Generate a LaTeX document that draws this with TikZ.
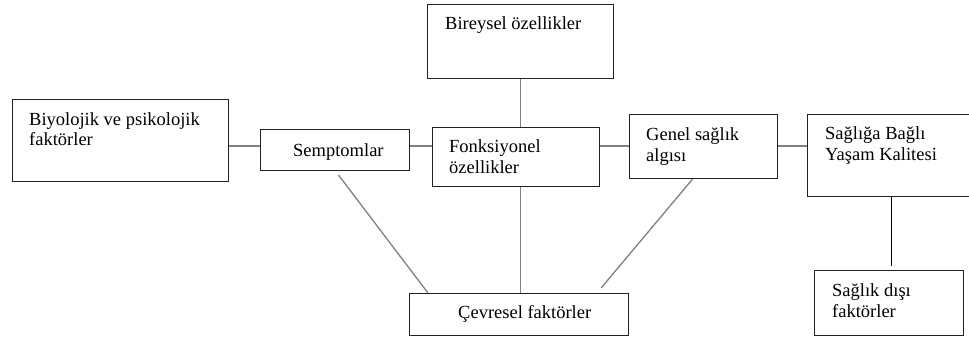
\documentclass[tikz,border=0pt]{standalone}
\usepackage{fontspec}
\setmainfont{Liberation Serif}
\usetikzlibrary{calc}
\definecolor{boxc}{HTML}{222222}
\definecolor{connc}{HTML}{808080}
\begin{document}
\begin{tikzpicture}[x=1pt,y=-1pt,
  box/.style={draw=boxc, line width=1.1pt, inner sep=0pt, anchor=north west},
  txt/.style={font=\fontsize{18.5}{20.5}\selectfont, align=left, inner sep=0pt, anchor=base west},
  conn/.style={draw=connc, line width=1.3pt},
  conndark/.style={draw=black, line width=1.4pt}]
\useasboundingbox[fill=white] (0,0) rectangle (969,340);

% boxes
\node[box, minimum width=216, minimum height=82] (bio)   at (12,99)  {};
\node[box, minimum width=149, minimum height=41] (semp)  at (260,129) {};
\node[box, minimum width=186, minimum height=74] (birey) at (427,4)   {};
\node[box, minimum width=167, minimum height=59] (fonk)  at (432,127) {};
\node[box, minimum width=148, minimum height=64] (genel) at (629,114) {};
\node[box, minimum width=168, minimum height=82] (sqol)  at (807,114) {};
\node[box, minimum width=149, minimum height=65] (dis)   at (814,270) {};
\node[box, minimum width=219, minimum height=42] (cevre) at (409,293) {};

% texts (base anchor of a two-line node is on its last line)
\node[txt] (bioT)   at ($(bio.north west)+(17,46.7)$)   {Biyolojik ve psikolojik\\faktörler};
\node[txt] (sempT)  at ($(semp.north west)+(33,27)$)    {Semptomlar};
\node[txt] (bireyT) at ($(birey.north west)+(18,25.3)$) {Bireysel özellikler};
\node[txt] (fonkT)  at ($(fonk.north west)+(17,46.3)$)  {Fonksiyonel\\özellikler};
\node[txt] (genelT) at ($(genel.north west)+(17,47)$)   {Genel sağlık\\algısı};
\node[txt] (sqolT)  at ($(sqol.north west)+(18,46)$)    {Sağlığa Bağlı\\Yaşam Kalitesi};
\node[txt] (disT)   at ($(dis.north west)+(18,47)$)     {Sağlık dışı\\faktörler};
\node[txt] (cevreT) at ($(cevre.north west)+(49,25)$)   {Çevresel faktörler};

% connectors
\coordinate (hl) at (0,146);
\draw[conn] (bio.east |- hl) -- (semp.west |- hl);
\draw[conn] (semp.east |- hl) -- (fonk.west |- hl);
\draw[conn] (fonk.east |- hl) -- (genel.west |- hl);
\draw[conn] (genel.east |- hl) -- (sqol.west |- hl);
\draw[conn] (birey.south) -- (birey.south |- fonk.north);
\draw[conn] (birey.south |- fonk.south) -- (birey.south |- cevre.north);
\draw[conn] ($(semp.south)+(3.5,4)$) -- ($(cevre.north west)+(19,0)$);
\draw[conn] ($(genel.south)+(-11,0)$) -- ($(cevre.north east)+(-28,-5)$);
\draw[conndark] (sqol.south) -- ($(sqol.south |- dis.north)+(0,-4)$);
\end{tikzpicture}
\end{document}
